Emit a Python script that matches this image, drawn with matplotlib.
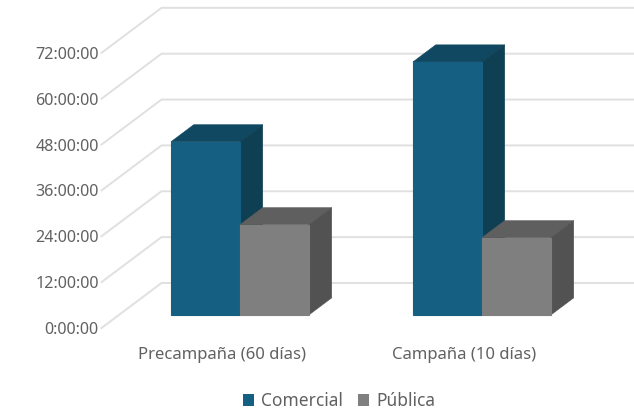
import matplotlib
matplotlib.use("Agg")
import matplotlib.pyplot as plt
from matplotlib.patches import Polygon, Patch

W, H = 634, 409

categories = ["Precampaña (60 días)", "Campaña (10 días)"]
series_names = ["Comercial", "Pública"]
comercial = [45.3, 66.2]
publica = [23.6, 20.2]
hour_ticks = [0, 12, 24, 36, 48, 60, 72]
hour_labels = ["0:00:00", "12:00:00", "24:00:00", "36:00:00", "48:00:00", "60:00:00", "72:00:00"]

colors = {"Comercial": ("#156082", "#104862", "#0e3f53"),
          "Pública": ("#7f7f7f", "#5f5f5f", "#525252")}
TEXT = "#616161"
GRID = "#e0e0e0"

fig = plt.figure(figsize=(W / 100, H / 100), dpi=100)
# axes span the front plane of the 3D box, in pixels
ax = fig.add_axes([101.5 / W, (H - 328) / H, 484 / W, 321 / H])
ax.set_xlim(-0.5, 1.5)
ax.set_ylim(0, 84)

px_x = 242.0        # pixels per category
px_y = 3.82         # pixels per hour
DEPTH_X = 60 / px_x
DEPTH_Y = 45 / px_y


def proj(x, h, d):
    # oblique projection, d=0 is the front plane and d=1 the back wall
    return (x + d * DEPTH_X, h + d * DEPTH_Y)


def bar3d(x0, x1, h, fc):
    front, top, side = fc
    d0, d1 = 0.29, 0.67
    ax.add_patch(Polygon([proj(x0, h, d0), proj(x1, h, d0), proj(x1, h, d1), proj(x0, h, d1)],
                         fc=top, ec=top, lw=0.4, zorder=3, clip_on=False))
    ax.add_patch(Polygon([proj(x1, 0, d0), proj(x1, h, d0), proj(x1, h, d1), proj(x1, 0, d1)],
                         fc=side, ec=side, lw=0.4, zorder=3, clip_on=False))
    ax.add_patch(Polygon([proj(x0, 0, d0), proj(x1, 0, d0), proj(x1, h, d0), proj(x0, h, d0)],
                         fc=front, ec=front, lw=0.8, zorder=3, clip_on=False))


# gridlines run along the side wall and then the back wall
for h in hour_ticks:
    xs = [-0.5, proj(-0.5, h, 1)[0], proj(1.5, h, 1)[0]]
    ys = [h, proj(-0.5, h, 1)[1], proj(1.5, h, 1)[1]]
    ax.plot(xs, ys, color=GRID, lw=1.4, zorder=1, clip_on=False)

width = 69 / px_x
for i in [0, 1]:
    # left series first, the right one's top overlaps its side face
    bar3d(i - width, i, comercial[i], colors["Comercial"])
    bar3d(i, i + width, publica[i], colors["Pública"])

ax.set_xticks([0, 1])
ax.set_xticklabels(categories, fontsize=12, color=TEXT, family="Noto Sans")
ax.set_yticks(hour_ticks)
ax.set_yticklabels(hour_labels, fontsize=11.6, color=TEXT, family="Noto Sans")
ax.tick_params(axis="both", length=0)
ax.tick_params(axis="x", pad=14)
ax.tick_params(axis="y", pad=2)
for s in ax.spines.values():
    s.set_visible(False)
ax.patch.set_visible(False)

handles = [Patch(fc=colors[n][0], label=n) for n in series_names]
fig.legend(handles=handles, loc="lower center", bbox_to_anchor=(339 / W, -1 / H), ncol=2, frameon=False,
           prop={"family": "Noto Sans", "size": 12.5}, labelcolor=TEXT, handlelength=0.62, handleheight=0.62,
           handletextpad=0.4, columnspacing=0.9, borderpad=0, borderaxespad=0)

fig.savefig("out.png", dpi=100)
